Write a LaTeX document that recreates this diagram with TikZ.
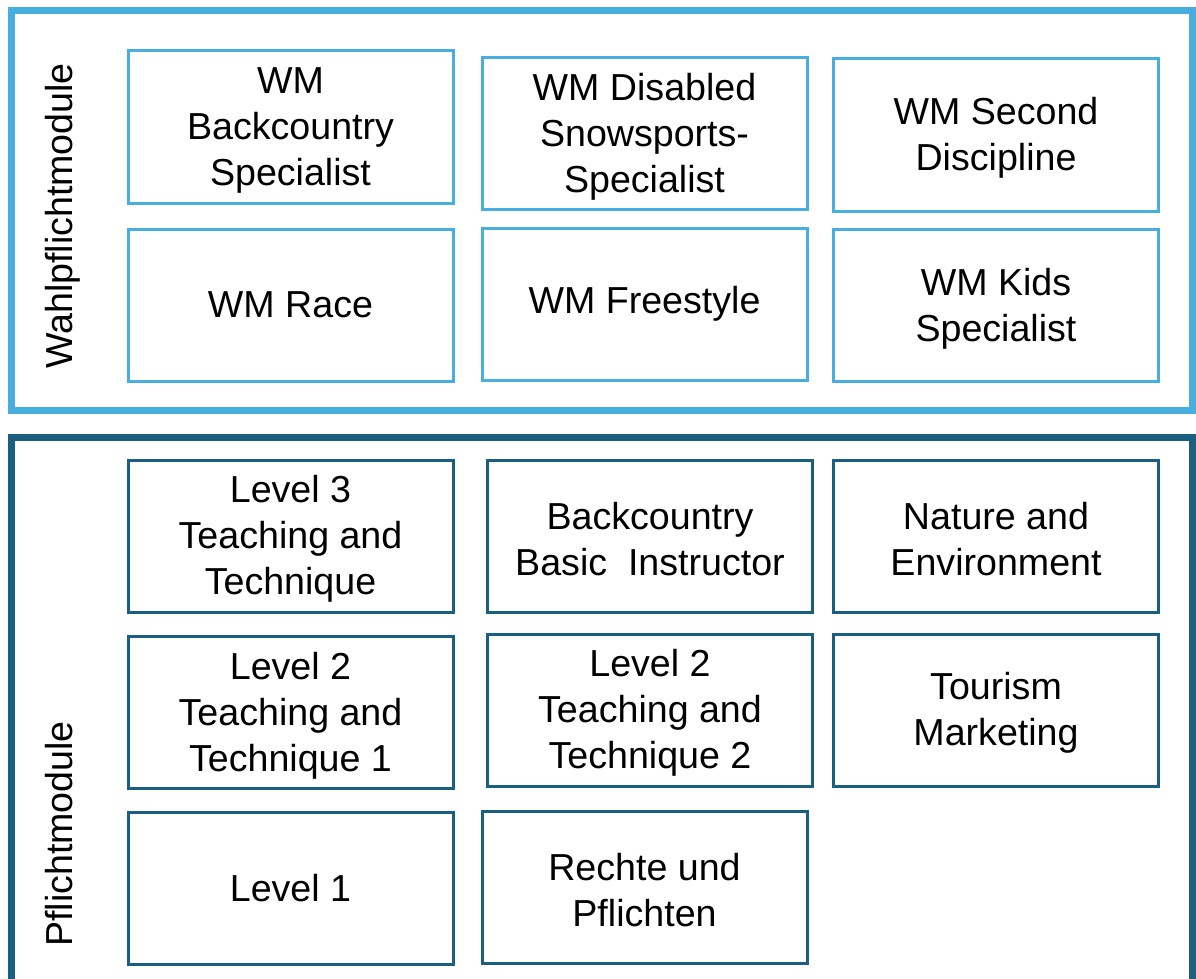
\documentclass[tikz,border=0pt]{standalone}
\usepackage{fontspec}
\setmainfont{Liberation Sans}
\definecolor{lb}{HTML}{48AEDF}
\definecolor{db}{HTML}{1B5F80}
\begin{document}
\begin{tikzpicture}[x=1pt,y=-1pt,
  mod/.style={draw, line width=3pt, minimum width=325pt, minimum height=152pt,
    inner sep=0pt, align=center, text=black, font=\fontsize{37.6}{46}\selectfont},
  wbox/.style={mod, draw=lb},
  pbox/.style={mod, draw=db},
  ml/.style={label={[inner sep=0pt, align=center, font=\fontsize{37.6}{46}\selectfont, yshift=-3pt]center:#1}},
  frame/.style={line width=7pt},
  sidelabel/.style={rotate=90, anchor=base, inner sep=0pt, font=\fontsize{37.6}{46}\selectfont}]
\useasboundingbox (0,0) rectangle (1196,979);
\clip (0,0) rectangle (1196,979);
\fill[white] (0,0) rectangle (1196,979);
% outer frames
\draw[frame, draw=lb] (11.5,10.5) rectangle (1192,410.5);
\draw[frame, draw=db] (11.5,437) rectangle (1192.5,1010);
% side labels
\node[sidelabel] (wl) at (72,216) {Wahlpflichtmodule};
\node[sidelabel] (pl) at (72,834) {Pflichtmodule};
% Wahlpflichtmodule
\node[wbox, ml={WM\\Backcountry\\Specialist}] (a1) at (290.5,127) {};
\node[wbox, ml={WM Disabled\\Snowsports-\\Specialist}] (a2) at (644.5,133.5) {};
\node[wbox, ml={WM Second\\Discipline}] (a3) at (996,135) {};
\node[wbox] (b1) at (290.5,305) {WM Race};
\node[wbox] (b2) at (644.5,304) {WM Freestyle};
\node[wbox, ml={WM Kids\\Specialist}] (b3) at (996,305.5) {};
% Pflichtmodule
\node[pbox, ml={Level 3\\Teaching and\\Technique}] (c1) at (290.5,536) {};
\node[pbox, ml={Backcountry\\Basic\ \ Instructor}] (c2) at (650,536.5) {};
\node[pbox, ml={Nature and\\Environment}] (c3) at (996,536.5) {};
\node[pbox, ml={Level 2\\Teaching and\\Technique 1}] (d1) at (290.5,712.5) {};
\node[pbox, ml={Level 2\\Teaching and\\Technique 2}] (d2) at (650,710) {};
\node[pbox, ml={Tourism\\Marketing}] (d3) at (996,710) {};
\node[pbox] (e1) at (290.5,888) {Level 1};
\node[pbox, ml={Rechte und\\Pflichten}] (e2) at (644.5,887.5) {};
\end{tikzpicture}
\end{document}
